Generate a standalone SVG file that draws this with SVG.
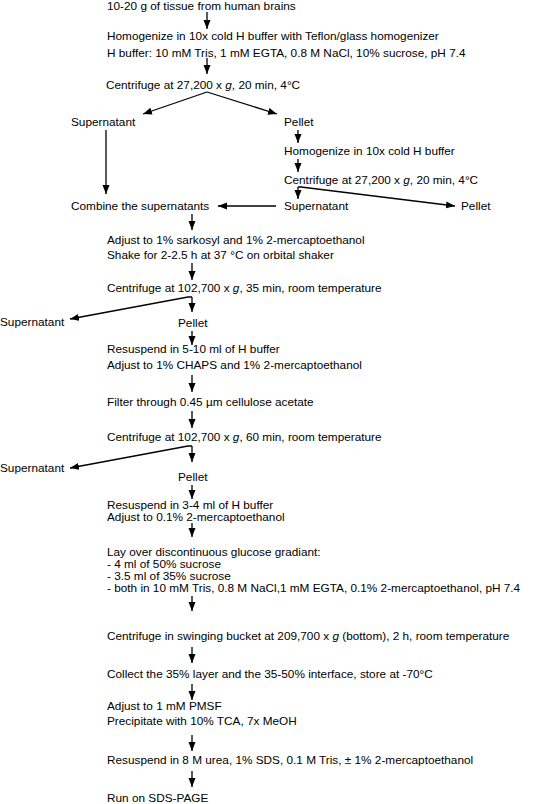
<svg xmlns="http://www.w3.org/2000/svg" width="557" height="804" viewBox="0 0 557 804">
<style>
text{font-family:"Liberation Sans",Arial,Helvetica,sans-serif;font-size:10.5px;fill:#000}
.i{font-style:italic}
.c line,.c path{stroke:#000;stroke-width:1.3;fill:none;marker-end:url(#ah)}
</style>
<defs>
<marker id="ah" markerWidth="9" markerHeight="8" refX="9" refY="4" orient="auto" markerUnits="userSpaceOnUse"><path d="M0,0.5 L9,4 L0,7.5 z" fill="#000" stroke="none"/></marker>
</defs>
<rect width="557" height="804" fill="#fff"/>
<g class="c" id="connectors">
<line x1="207" y1="12" x2="207" y2="29"/>
<line x1="207" y1="58" x2="207" y2="74"/>
<line x1="207" y1="92" x2="143" y2="114"/>
<line x1="207" y1="92" x2="277" y2="114"/>
<line x1="106" y1="130" x2="106" y2="194"/>
<line x1="298" y1="130" x2="298" y2="143"/>
<line x1="298" y1="159" x2="298" y2="172"/>
<line x1="298" y1="187" x2="298" y2="199"/>
<path d="M298,187 H301 L455,206"/>
<line x1="276" y1="206" x2="218" y2="206"/>
<line x1="192" y1="214" x2="192" y2="230"/>
<line x1="192" y1="263" x2="192" y2="280"/>
<line x1="192" y1="297" x2="192" y2="312"/>
<path d="M192,297 H188 L70,319"/>
<line x1="192" y1="331" x2="192" y2="345"/>
<line x1="192" y1="375" x2="192" y2="392"/>
<line x1="192" y1="411" x2="192" y2="428"/>
<line x1="192" y1="446" x2="192" y2="462"/>
<path d="M192,446 H188 L70,468"/>
<line x1="192" y1="485" x2="192" y2="499"/>
<line x1="192" y1="523" x2="192" y2="537"/>
<line x1="192" y1="596" x2="192" y2="611"/>
<line x1="192" y1="647" x2="192" y2="663"/>
<line x1="192" y1="684" x2="192" y2="700"/>
<line x1="192" y1="735" x2="192" y2="751"/>
<line x1="192" y1="771" x2="192" y2="787"/>
</g>
<g id="n1"><text transform="translate(107 10) scale(1.124 1)">10-20 g of tissue from human brains</text></g>
<g id="n2"><text transform="translate(107 40) scale(1.124 1)">Homogenize in 10x cold H buffer with Teflon/glass homogenizer</text><text transform="translate(107 57) scale(1.124 1)">H buffer: 10 mM Tris, 1 mM EGTA, 0.8 M NaCl, 10% sucrose, pH 7.4</text></g>
<g id="n3"><text transform="translate(106 89) scale(1.124 1)">Centrifuge at 27,200 x <tspan class="i">g</tspan>, 20 min, 4°C</text></g>
<g id="n4"><text transform="translate(71 126) scale(1.124 1)">Supernatant</text></g>
<g id="n5"><text transform="translate(284 126) scale(1.124 1)">Pellet</text></g>
<g id="n6"><text transform="translate(284 155) scale(1.124 1)">Homogenize in 10x cold H buffer</text></g>
<g id="n7"><text transform="translate(284 184) scale(1.124 1)">Centrifuge at 27,200 x <tspan class="i">g</tspan>, 20 min, 4°C</text></g>
<g id="n8"><text transform="translate(284 210) scale(1.124 1)">Supernatant</text></g>
<g id="n9"><text transform="translate(461 210) scale(1.124 1)">Pellet</text></g>
<g id="n10"><text transform="translate(71 210) scale(1.124 1)">Combine the supernatants</text></g>
<g id="n11"><text transform="translate(107 244) scale(1.124 1)">Adjust to 1% sarkosyl and 1% 2-mercaptoethanol</text><text transform="translate(107 259) scale(1.124 1)">Shake for 2-2.5 h at 37 °C on orbital shaker</text></g>
<g id="n12"><text transform="translate(107 292) scale(1.124 1)">Centrifuge at 102,700 x <tspan class="i">g</tspan>, 35 min, room temperature</text></g>
<g id="n13"><text transform="translate(0 326) scale(1.124 1)">Supernatant</text></g>
<g id="n14"><text transform="translate(178 327) scale(1.124 1)">Pellet</text></g>
<g id="n15"><text transform="translate(107 353) scale(1.124 1)">Resuspend in 5-10 ml of H buffer</text><text transform="translate(107 369) scale(1.124 1)">Adjust to 1% CHAPS and 1% 2-mercaptoethanol</text></g>
<g id="n16"><text transform="translate(107 406) scale(1.124 1)">Filter through 0.45 µm cellulose acetate</text></g>
<g id="n17"><text transform="translate(107 441) scale(1.124 1)">Centrifuge at 102,700 x <tspan class="i">g</tspan>, 60 min, room temperature</text></g>
<g id="n18"><text transform="translate(0 472) scale(1.124 1)">Supernatant</text></g>
<g id="n19"><text transform="translate(178 481) scale(1.124 1)">Pellet</text></g>
<g id="n20"><text transform="translate(107 509) scale(1.124 1)">Resuspend in 3-4 ml of H buffer</text><text transform="translate(107 521) scale(1.124 1)">Adjust to 0.1% 2-mercaptoethanol</text></g>
<g id="n21"><text transform="translate(107 556) scale(1.124 1)">Lay over discontinuous glucose gradiant:</text><text transform="translate(107 568) scale(1.124 1)">- 4 ml of 50% sucrose</text><text transform="translate(107 580) scale(1.124 1)">- 3.5 ml of 35% sucrose</text><text transform="translate(107 592) scale(1.124 1)">- both in 10 mM Tris, 0.8 M NaCl,1 mM EGTA, 0.1% 2-mercaptoethanol, pH 7.4</text></g>
<g id="n22"><text transform="translate(107 640) scale(1.124 1)">Centrifuge in swinging bucket at 209,700 x <tspan class="i">g</tspan> (bottom), 2 h, room temperature</text></g>
<g id="n23"><text transform="translate(107 678) scale(1.124 1)">Collect the 35% layer and the 35-50% interface, store at -70°C</text></g>
<g id="n24"><text transform="translate(107 710) scale(1.124 1)">Adjust to 1 mM PMSF</text><text transform="translate(107 725) scale(1.124 1)">Precipitate with 10% TCA, 7x MeOH</text></g>
<g id="n25"><text transform="translate(107 764) scale(1.124 1)">Resuspend in 8 M urea, 1% SDS, 0.1 M Tris, ± 1% 2-mercaptoethanol</text></g>
<g id="n26"><text transform="translate(107 802) scale(1.124 1)">Run on SDS-PAGE</text></g>
</svg>
